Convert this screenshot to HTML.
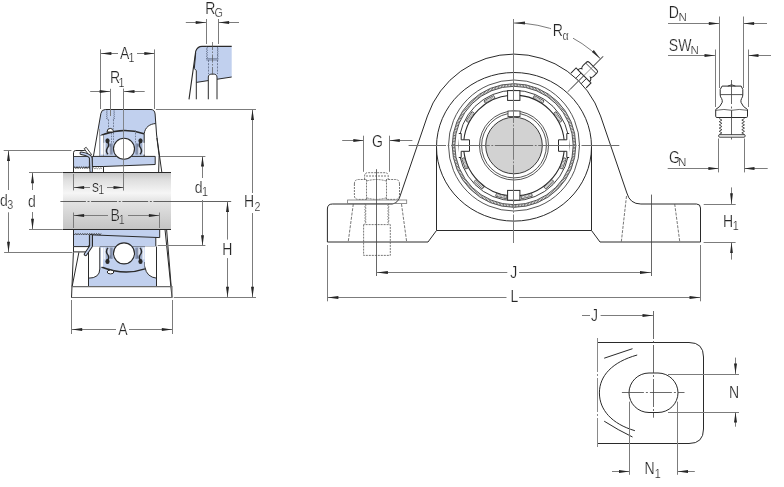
<!DOCTYPE html>
<html><head><meta charset="utf-8"><style>
html,body{margin:0;padding:0;background:#fff;}
svg{display:block;will-change:transform;}
text{font-family:"Liberation Sans",sans-serif;fill:#262626;stroke:#fff;stroke-width:0.22px;}
</style></head><body>
<svg width="784" height="487" viewBox="0 0 784 487">
<rect width="784" height="487" fill="#fff"/>
<defs><linearGradient id="sh" x1="0" y1="0" x2="0" y2="1"><stop offset="0" stop-color="#c6c6c6"/><stop offset="0.12" stop-color="#dedede"/><stop offset="0.36" stop-color="#f6f6f6"/><stop offset="0.5" stop-color="#e4e4e4"/><stop offset="0.75" stop-color="#d4d4d4"/><stop offset="1" stop-color="#c4c4c4"/></linearGradient></defs>
<rect x="63" y="172.7" width="108" height="56.6" fill="url(#sh)"/>
<path d="M105.3,109.5 L151,109.5 Q154.6,109.5 155.1,114 L158.2,146 L159.5,156.4 L93.4,156.4 L100.9,113.4 Q101.5,109.5 105.3,109.5 Z" fill="#c1d0ee" stroke="none"/>
<path d="M98.2,129 L99.7,129 L99.7,156 L93.4,156 Z" fill="#fff" stroke="none"/>
<line x1="99.5" y1="129" x2="99.5" y2="156" stroke="#8a8a8a" stroke-width="0.8" fill="none"/>
<line x1="103.5" y1="135" x2="103.5" y2="156" stroke="#8a8a8a" stroke-width="0.8" fill="none"/>
<path d="M155.6,123.5 C150,124 145,127 144.2,133.7 L144.2,156.4 L159.5,156.4 L158.2,146 Z" fill="#fff" stroke="none"/>
<path d="M155.6,123.5 C150,124 145,127 144.2,133.7 L144.2,156.4" stroke="#2a2a2a" stroke-width="1" fill="none"/>
<path d="M156.6,135 L161.9,172.9" stroke="#2a2a2a" stroke-width="1" fill="none"/>
<path d="M156.9,138 Q160.5,156 158.6,172.9" stroke="#2a2a2a" stroke-width="1" fill="none"/>
<path d="M100.8,136 Q102,134.5 104,134.2 Q124,127 144,133.7" stroke="#2a2a2a" stroke-width="1.5" fill="none"/>
<path d="M106.3,110 l1.1,1.05 l-1.1,1.05 l1.1,1.05 l-1.1,1.05 l1.1,1.05 l-1.1,1.05 l1.1,1.05 l-1.1,1.05" stroke="#56627c" stroke-width="0.7" fill="none"/>
<path d="M114.7,110 l-1.1,1.05 l1.1,1.05 l-1.1,1.05 l1.1,1.05 l-1.1,1.05 l1.1,1.05 l-1.1,1.05 l1.1,1.05" stroke="#56627c" stroke-width="0.7" fill="none"/>
<path d="M106.3,118.4 L108.3,119.5 M114.7,118.4 L112.9,119.5" stroke="#56627c" stroke-width="0.7" fill="none"/>
<line x1="108.5" y1="119.5" x2="108.5" y2="128.8" stroke="#606a80" stroke-width="0.8" stroke-dasharray="1.8 1.1"/>
<line x1="113.5" y1="119.5" x2="113.5" y2="128.8" stroke="#606a80" stroke-width="0.8" stroke-dasharray="1.8 1.1"/>
<path d="M107,132 Q107,128.4 110.3,128.4 Q113.6,128.4 113.6,132 Z" fill="#fff" stroke="#2a2a2a" stroke-width="1"/>
<line x1="111.5" y1="133" x2="111.5" y2="143.6" stroke="#606a80" stroke-width="0.8" stroke-dasharray="1.5 1.2"/>
<line x1="113.5" y1="133" x2="113.5" y2="143.6" stroke="#606a80" stroke-width="0.8" stroke-dasharray="1.5 1.2"/>
<line x1="135.5" y1="130.3" x2="135.5" y2="142.6" stroke="#606a80" stroke-width="0.8" stroke-dasharray="1.5 1.2"/>
<g transform="translate(107.5,148.8) scale(1,1)"><rect x="-6.7" y="-13.3" width="2.2" height="19.1" fill="#fff"/><path d="M-4,-6 L-1.8,-6 L-1.8,5.8 L-4,5.8 Z" fill="#eef1f8"/><path d="M-1.8,-5.5 L4.5,-5.5 L4.5,5.8 L-1.8,5.8 Z" fill="#9eadcb"/><path d="M0.5,-2 L3.5,-2 L3.5,5.8 L0.5,5.8 Z" fill="#d8dff0"/><ellipse cx="0" cy="-8" rx="2.1" ry="2.6" fill="#2a2a2a"/><path d="M0.3,-7 Q2.3,-3.5 -0.3,-0.5 Q-2.3,2.5 0.6,5.5" stroke="#2a2a2a" stroke-width="1.3" fill="none"/><path d="M2.8,-5 L2.8,5.8 M4.5,-5.5 L4.5,5.8" stroke="#4f5a72" stroke-width="0.7" fill="none"/></g>
<g transform="translate(140.5,148.8) scale(-1,1)"><rect x="-6.7" y="-13.3" width="2.2" height="19.1" fill="#fff"/><path d="M-4,-6 L-1.8,-6 L-1.8,5.8 L-4,5.8 Z" fill="#eef1f8"/><path d="M-1.8,-5.5 L4.5,-5.5 L4.5,5.8 L-1.8,5.8 Z" fill="#9eadcb"/><path d="M0.5,-2 L3.5,-2 L3.5,5.8 L0.5,5.8 Z" fill="#d8dff0"/><ellipse cx="0" cy="-8" rx="2.1" ry="2.6" fill="#2a2a2a"/><path d="M0.3,-7 Q2.3,-3.5 -0.3,-0.5 Q-2.3,2.5 0.6,5.5" stroke="#2a2a2a" stroke-width="1.3" fill="none"/><path d="M2.8,-5 L2.8,5.8 M4.5,-5.5 L4.5,5.8" stroke="#4f5a72" stroke-width="0.7" fill="none"/></g>
<path d="M92.2,156.4 L155.2,156.4 L155.2,164.5 L103.5,166.5 L92.2,166.5 Z" fill="#c1d0ee" stroke="#2a2a2a" stroke-width="1"/>
<line x1="103.5" y1="166.5" x2="103.5" y2="172.7" stroke="#2a2a2a" stroke-width="1" fill="none"/>
<path d="M92.5,168.8 l1.2,-1.1 l1.2,1.1 l1.2,-1.1 l1.2,1.1 l1.2,-1.1 l1.2,1.1 l1.2,-1.1 l1.2,1.1" stroke="#555" stroke-width="0.7" fill="none"/>
<circle cx="124" cy="148.8" r="10.5" fill="#fff" stroke="#2a2a2a" stroke-width="1.1"/>
<path d="M73.5,172.7 L73.5,152.7 Q73.5,150.5 75.7,150.5 L84.8,150.5" stroke="#2a2a2a" stroke-width="1" fill="none"/>
<path d="M73.5,156.5 L89.4,156.5 L89.4,168.5 l-1.13,-1.8 l-1.13,1.8 l-1.13,-1.8 l-1.13,1.8 l-1.13,-1.8 l-1.13,1.8 l-1.13,-1.8 l-1.13,1.8 l-1.13,-1.8 l-1.13,1.8 l-1.13,-1.8 l-1.13,1.8 l-1.13,-1.8 l-1.13,1.8 Z" fill="#c1d0ee" stroke="#2a2a2a" stroke-width="0.9"/>
<path d="M84.2,148.6 L86.2,147.3 L91.6,154.6 L89.2,155.8 Z" fill="#fff" stroke="#2a2a2a" stroke-width="0.9"/>
<path d="M81.2,153.2 Q89.5,154.5 90.8,158 L91.2,171.3" stroke="#2a2a2a" stroke-width="3.4" fill="none" stroke-linecap="round"/>
<path d="M81.2,153.2 Q89.5,154.5 90.8,158 L91.2,171.3" stroke="#c1d0ee" stroke-width="1.6" fill="none" stroke-linecap="round"/>
<path d="M73.5,229.3 L159.7,229.3 L159.7,237.6 L155.8,237.6 L155.8,246.6 L73.5,246.6 Z" fill="#c1d0ee" stroke="none"/>
<path d="M73.5,233.4 l1.15,1.6 l1.15,-1.6 l1.15,1.6 l1.15,-1.6 l1.15,1.6 l1.15,-1.6 l1.15,1.6 l1.15,-1.6 l1.15,1.6 l1.15,-1.6 l1.15,1.6 l1.15,-1.6 l1.15,1.6 l1.15,-1.6 l1.15,1.6 l1.15,-1.6 l1.15,1.6 l1.15,-1.6 l1.15,1.6 l1.15,-1.6 l1.15,1.6 l1.15,-1.6 l1.15,1.6 l1.15,-1.6" stroke="#333" stroke-width="0.75" fill="none"/>
<path d="M73.5,246.6 L73.5,251.9 L85.7,251.9" stroke="#2a2a2a" stroke-width="1" fill="none"/>
<path d="M73.5,229.3 L73.5,246.6 L89.4,246.6 L89.4,235" stroke="#2a2a2a" stroke-width="1" fill="none"/>
<path d="M92.5,234.9 L159.7,237.6 L159.7,229.3" stroke="#2a2a2a" stroke-width="1" fill="none"/>
<path d="M92.5,235 L92.5,246.6 L155.8,246.6 L155.8,237.6" stroke="#2a2a2a" stroke-width="1" fill="none"/>
<path d="M88.2,246.6 L156.6,246.6 L156.6,285.9 L88.2,285.9 Z" fill="#c1d0ee" stroke="none"/>
<path d="M88.2,246.6 L99.8,246.6 L99.8,269 Q99.8,278.2 88.2,278.2 Z" fill="#fff" stroke="none"/>
<path d="M99.8,247.4 L99.8,269 Q99.8,278.2 88.2,278.2" stroke="#2a2a2a" stroke-width="1" fill="none"/>
<path d="M145,246.6 L156.6,246.6 L156.6,278.2 Q146.6,277 145,267.4 Z" fill="#fff" stroke="none"/>
<path d="M145,262 L145,267.4 Q146.6,277 156.6,278.2" stroke="#2a2a2a" stroke-width="1" fill="none"/>
<line x1="88.5" y1="245.5" x2="88.5" y2="286.2" stroke="#2a2a2a" stroke-width="1" fill="none"/>
<line x1="156.5" y1="246.6" x2="156.5" y2="286" stroke="#2a2a2a" stroke-width="1" fill="none"/>
<path d="M101.5,267 Q124,276 145,268.9" stroke="#2a2a2a" stroke-width="1.5" fill="none"/>
<ellipse cx="110.5" cy="272" rx="3.3" ry="1.9" fill="#fff" stroke="#2a2a2a" stroke-width="1"/>
<g transform="translate(107.5,253.4) scale(1,-1)"><rect x="-6.7" y="-13.3" width="2.2" height="19.1" fill="#fff"/><path d="M-4,-6 L-1.8,-6 L-1.8,5.8 L-4,5.8 Z" fill="#eef1f8"/><path d="M-1.8,-5.5 L4.5,-5.5 L4.5,5.8 L-1.8,5.8 Z" fill="#9eadcb"/><path d="M0.5,-2 L3.5,-2 L3.5,5.8 L0.5,5.8 Z" fill="#d8dff0"/><ellipse cx="0" cy="-8" rx="2.1" ry="2.6" fill="#2a2a2a"/><path d="M0.3,-7 Q2.3,-3.5 -0.3,-0.5 Q-2.3,2.5 0.6,5.5" stroke="#2a2a2a" stroke-width="1.3" fill="none"/><path d="M2.8,-5 L2.8,5.8 M4.5,-5.5 L4.5,5.8" stroke="#4f5a72" stroke-width="0.7" fill="none"/></g>
<g transform="translate(140.5,253.4) scale(-1,-1)"><rect x="-6.7" y="-13.3" width="2.2" height="19.1" fill="#fff"/><path d="M-4,-6 L-1.8,-6 L-1.8,5.8 L-4,5.8 Z" fill="#eef1f8"/><path d="M-1.8,-5.5 L4.5,-5.5 L4.5,5.8 L-1.8,5.8 Z" fill="#9eadcb"/><path d="M0.5,-2 L3.5,-2 L3.5,5.8 L0.5,5.8 Z" fill="#d8dff0"/><ellipse cx="0" cy="-8" rx="2.1" ry="2.6" fill="#2a2a2a"/><path d="M0.3,-7 Q2.3,-3.5 -0.3,-0.5 Q-2.3,2.5 0.6,5.5" stroke="#2a2a2a" stroke-width="1.3" fill="none"/><path d="M2.8,-5 L2.8,5.8 M4.5,-5.5 L4.5,5.8" stroke="#4f5a72" stroke-width="0.7" fill="none"/></g>
<circle cx="124" cy="253.4" r="10.5" fill="#fff" stroke="#2a2a2a" stroke-width="1.1"/>
<path d="M91,235.5 L91,246.3 L85.6,254.3" stroke="#2a2a2a" stroke-width="3.6" fill="none" stroke-linecap="round"/>
<path d="M91,235.5 L91,246.3 L85.6,254.3" stroke="#c1d0ee" stroke-width="1.6" fill="none" stroke-linecap="round"/>
<line x1="73.4" y1="252.3" x2="71.5" y2="297.8" stroke="#2a2a2a" stroke-width="1" fill="none"/>
<line x1="78.9" y1="252.3" x2="72.2" y2="286.2" stroke="#2a2a2a" stroke-width="1" fill="none"/>
<line x1="165" y1="229.3" x2="172" y2="297.4" stroke="#2a2a2a" stroke-width="1" fill="none"/>
<line x1="166.6" y1="229.3" x2="171.2" y2="286.6" stroke="#2a2a2a" stroke-width="1" fill="none"/>
<path d="M71.5,286.6 L172,286.6 L172,297.5 L71.5,297.5" stroke="#6a6a6a" stroke-width="1.1" fill="none"/>
<line x1="63" y1="172.5" x2="171" y2="172.5" stroke="#2a2a2a" stroke-width="1.1"/>
<line x1="63" y1="229.5" x2="171" y2="229.5" stroke="#2a2a2a" stroke-width="1.1"/>
<path d="M93.4,156.4 L100.9,113.4 Q101.5,109.5 105.3,109.5 L151,109.5 Q154.6,109.5 155.1,114 L156.6,135" stroke="#2a2a2a" stroke-width="1" fill="none"/>
<path d="M60.4,201.5 L85.9,201.5 M87.5,201.5 L89.5,201.5 M91.1,201.5 L117.1,201.5 M118.7,201.5 L120.7,201.5 M122.3,201.5 L148.2,201.5 M149.8,201.5 L151.8,201.5 M153.4,201.5 L231.2,201.5" stroke="#505050" stroke-width="0.9" fill="none"/>
<line x1="123.5" y1="88.7" x2="123.5" y2="190.3" stroke="#707070" stroke-width="0.8" fill="none"/>
<path d="M195.7,51.3 Q197.5,46.4 202,46.4 L231.7,46.4 L231.7,77 L196.3,82.4 L196.3,70 L193.9,68.7 Z" fill="#c1d0ee" stroke="none"/>
<path d="M231.7,46.4 L202,46.4 Q197.5,46.4 195.7,51.3 L189,99.3" stroke="#2a2a2a" stroke-width="1.1" fill="none"/>
<path d="M195.7,53 L194.3,68.5 L196.3,70.7 L196.3,99.3" stroke="#2a2a2a" stroke-width="1" fill="none"/>
<path d="M196.3,82.4 L231.7,77" stroke="#2a2a2a" stroke-width="1" fill="none"/>
<path d="M206.3,46.6 l1.3,1.2 l-1.3,1.2 l1.3,1.2 l-1.3,1.2 l1.3,1.2 l-1.3,1.2 l1.3,1.2 l-1.3,1.2 l1.3,1.2 l-1.3,1.2" stroke="#4a5670" stroke-width="0.7" fill="none"/>
<path d="M218.3,46.6 l-1.3,1.2 l1.3,1.2 l-1.3,1.2 l1.3,1.2 l-1.3,1.2 l1.3,1.2 l-1.3,1.2 l1.3,1.2 l-1.3,1.2 l1.3,1.2" stroke="#4a5670" stroke-width="0.7" fill="none"/>
<path d="M206.3,58.7 L218.3,58.7 M206.3,60 L218.3,60" stroke="#4a5670" stroke-width="0.6" fill="none"/>
<line x1="208.5" y1="60" x2="208.5" y2="74" stroke="#5a6680" stroke-width="0.8" stroke-dasharray="2 1.2"/>
<line x1="217.5" y1="60" x2="217.5" y2="74" stroke="#5a6680" stroke-width="0.8" stroke-dasharray="2 1.2"/>
<path d="M208.3,99.3 L208.3,77 Q208.3,74 212.6,74 Q217,74 217,77 L217,99.3" fill="#fff" stroke="#2a2a2a" stroke-width="1"/>
<line x1="212.5" y1="42" x2="212.5" y2="76" stroke="#555" stroke-width="0.7" stroke-dasharray="8 1.5 1.5 1.5"/>
<line x1="206.5" y1="19" x2="206.5" y2="44" stroke="#7c7c7c" stroke-width="1" fill="none"/>
<line x1="218.5" y1="19" x2="218.5" y2="44" stroke="#7c7c7c" stroke-width="1" fill="none"/>
<line x1="185.8" y1="22.5" x2="206.2" y2="22.5" stroke="#7c7c7c" stroke-width="1" fill="none"/>
<polygon points="206.2,22.5 195.7,21.0 195.7,24.0" fill="#262626"/>
<line x1="218.6" y1="22.5" x2="239" y2="22.5" stroke="#7c7c7c" stroke-width="1" fill="none"/>
<polygon points="218.6,22.5 229.1,21.0 229.1,24.0" fill="#262626"/>
<text transform="translate(205.2,13.7) scale(0.86,1)" font-size="16.3">R</text>
<text transform="translate(214.6,17.0) scale(0.86,1)" font-size="12.5">G</text>
<line x1="100.5" y1="49.4" x2="100.5" y2="109" stroke="#7c7c7c" stroke-width="1" fill="none"/>
<line x1="154.5" y1="49.4" x2="154.5" y2="109" stroke="#7c7c7c" stroke-width="1" fill="none"/>
<line x1="100.9" y1="53.5" x2="118" y2="53.5" stroke="#7c7c7c" stroke-width="1" fill="none"/>
<line x1="137" y1="53.5" x2="154.8" y2="53.5" stroke="#7c7c7c" stroke-width="1" fill="none"/>
<polygon points="100.9,53.5 111.4,52.0 111.4,55.0" fill="#262626"/>
<polygon points="154.8,53.5 144.3,52.0 144.3,55.0" fill="#262626"/>
<text transform="translate(120.0,58.7) scale(0.86,1)" font-size="16.3">A</text>
<text transform="translate(128.4,61.9) scale(0.86,1)" font-size="12.5">1</text>
<line x1="110.5" y1="88.8" x2="110.5" y2="116" stroke="#7c7c7c" stroke-width="1" fill="none"/>
<line x1="123.5" y1="88.8" x2="123.5" y2="110" stroke="#7c7c7c" stroke-width="1" fill="none"/>
<line x1="90.2" y1="91.5" x2="110.1" y2="91.5" stroke="#7c7c7c" stroke-width="1" fill="none"/>
<polygon points="110.1,91.5 99.6,90.0 99.6,93.0" fill="#262626"/>
<line x1="124" y1="91.5" x2="144.7" y2="91.5" stroke="#7c7c7c" stroke-width="1" fill="none"/>
<polygon points="124.0,91.5 134.5,90.0 134.5,93.0" fill="#262626"/>
<text transform="translate(110.0,83.4) scale(0.86,1)" font-size="16.3">R</text>
<text transform="translate(118.5,86.8) scale(0.86,1)" font-size="12.5">1</text>
<line x1="155.9" y1="109.5" x2="256" y2="109.5" stroke="#7c7c7c" stroke-width="1" fill="none"/>
<line x1="173.8" y1="297.5" x2="256" y2="297.5" stroke="#7c7c7c" stroke-width="1" fill="none"/>
<line x1="252.5" y1="109.5" x2="252.5" y2="193" stroke="#7c7c7c" stroke-width="1" fill="none"/>
<line x1="252.5" y1="213" x2="252.5" y2="297.3" stroke="#7c7c7c" stroke-width="1" fill="none"/>
<polygon points="252.5,109.5 251.0,120.0 254.0,120.0" fill="#262626"/>
<polygon points="252.5,297.3 251.0,286.8 254.0,286.8" fill="#262626"/>
<text transform="translate(244.0,207.2) scale(0.86,1)" font-size="16.3">H</text>
<text transform="translate(254.4,210.5) scale(0.86,1)" font-size="12.5">2</text>
<line x1="227.5" y1="201.5" x2="227.5" y2="239.6" stroke="#7c7c7c" stroke-width="1" fill="none"/>
<line x1="227.5" y1="258.1" x2="227.5" y2="297.3" stroke="#7c7c7c" stroke-width="1" fill="none"/>
<polygon points="227.5,201.5 226.0,212.0 229.0,212.0" fill="#262626"/>
<polygon points="227.5,297.3 226.0,286.8 229.0,286.8" fill="#262626"/>
<text transform="translate(222.3,254.7) scale(0.86,1)" font-size="16.3">H</text>
<line x1="160" y1="156.5" x2="205.4" y2="156.5" stroke="#7c7c7c" stroke-width="1" fill="none"/>
<line x1="157.7" y1="245.5" x2="205.4" y2="245.5" stroke="#7c7c7c" stroke-width="1" fill="none"/>
<line x1="202.5" y1="156" x2="202.5" y2="178" stroke="#7c7c7c" stroke-width="1" fill="none"/>
<line x1="202.5" y1="200" x2="202.5" y2="245.8" stroke="#7c7c7c" stroke-width="1" fill="none"/>
<polygon points="202.5,156.0 201.0,166.5 204.0,166.5" fill="#262626"/>
<polygon points="202.5,245.8 201.0,235.3 204.0,235.3" fill="#262626"/>
<text transform="translate(194.8,192.9) scale(0.86,1)" font-size="16.3">d</text>
<text transform="translate(201.9,195.8) scale(0.86,1)" font-size="12.5">1</text>
<line x1="3.7" y1="150.5" x2="71.4" y2="150.5" stroke="#7c7c7c" stroke-width="1" fill="none"/>
<line x1="4.1" y1="252.5" x2="72.4" y2="252.5" stroke="#7c7c7c" stroke-width="1" fill="none"/>
<line x1="8.5" y1="150.6" x2="8.5" y2="190" stroke="#7c7c7c" stroke-width="1" fill="none"/>
<line x1="8.5" y1="212.3" x2="8.5" y2="252.2" stroke="#7c7c7c" stroke-width="1" fill="none"/>
<polygon points="8.5,150.6 7.0,161.1 10.0,161.1" fill="#262626"/>
<polygon points="8.5,252.2 7.0,241.7 10.0,241.7" fill="#262626"/>
<text transform="translate(-0.1,206.2) scale(0.86,1)" font-size="16.3">d</text>
<text transform="translate(7.3,209.1) scale(0.86,1)" font-size="12.5">3</text>
<line x1="29" y1="172.5" x2="62.8" y2="172.5" stroke="#7c7c7c" stroke-width="1" fill="none"/>
<line x1="29" y1="229.5" x2="62.8" y2="229.5" stroke="#7c7c7c" stroke-width="1" fill="none"/>
<line x1="32.5" y1="172.8" x2="32.5" y2="190" stroke="#7c7c7c" stroke-width="1" fill="none"/>
<line x1="32.5" y1="212" x2="32.5" y2="229.2" stroke="#7c7c7c" stroke-width="1" fill="none"/>
<polygon points="32.5,172.8 31.0,183.3 34.0,183.3" fill="#262626"/>
<polygon points="32.5,229.2 31.0,218.7 34.0,218.7" fill="#262626"/>
<text transform="translate(28.0,206.9) scale(0.86,1)" font-size="16.3">d</text>
<line x1="73.5" y1="174" x2="73.5" y2="190.4" stroke="#7c7c7c" stroke-width="1" fill="none"/>
<line x1="123.5" y1="174" x2="123.5" y2="190.4" stroke="#7c7c7c" stroke-width="1" fill="none"/>
<line x1="73.6" y1="187.5" x2="90" y2="187.5" stroke="#7c7c7c" stroke-width="1" fill="none"/>
<line x1="107" y1="187.5" x2="124" y2="187.5" stroke="#7c7c7c" stroke-width="1" fill="none"/>
<polygon points="73.6,187.5 84.1,186.0 84.1,189.0" fill="#262626"/>
<polygon points="124.0,187.5 113.5,186.0 113.5,189.0" fill="#262626"/>
<text transform="translate(91.9,191.9) scale(0.86,1)" font-size="16.3">s</text>
<text transform="translate(98.2,194.4) scale(0.86,1)" font-size="12.5">1</text>
<line x1="73.5" y1="212.5" x2="73.5" y2="228" stroke="#7c7c7c" stroke-width="1" fill="none"/>
<line x1="159.5" y1="212.5" x2="159.5" y2="228" stroke="#7c7c7c" stroke-width="1" fill="none"/>
<line x1="73.6" y1="215.5" x2="108" y2="215.5" stroke="#7c7c7c" stroke-width="1" fill="none"/>
<line x1="128" y1="215.5" x2="159.4" y2="215.5" stroke="#7c7c7c" stroke-width="1" fill="none"/>
<polygon points="73.6,215.5 84.1,214.0 84.1,217.0" fill="#262626"/>
<polygon points="159.4,215.5 148.9,214.0 148.9,217.0" fill="#262626"/>
<text transform="translate(110.4,220.6) scale(0.86,1)" font-size="16.3">B</text>
<text transform="translate(118.7,223.7) scale(0.86,1)" font-size="12.5">1</text>
<line x1="71.5" y1="300" x2="71.5" y2="334" stroke="#7c7c7c" stroke-width="1" fill="none"/>
<line x1="172.5" y1="300" x2="172.5" y2="334" stroke="#7c7c7c" stroke-width="1" fill="none"/>
<line x1="71.75" y1="329.5" x2="116" y2="329.5" stroke="#7c7c7c" stroke-width="1" fill="none"/>
<line x1="129" y1="329.5" x2="172.3" y2="329.5" stroke="#7c7c7c" stroke-width="1" fill="none"/>
<polygon points="71.8,329.5 82.2,328.0 82.2,331.0" fill="#262626"/>
<polygon points="172.3,329.5 161.8,328.0 161.8,331.0" fill="#262626"/>
<text transform="translate(118.3,335.0) scale(0.86,1)" font-size="16.3">A</text>
<path d="M427.44,115.95 A91.5,91.5 0 0 1 600.56,115.95 L626.87,193 Q629.87,204 640.87,204 L696.5,204 Q700.5,204 700.5,208 L700.5,242 L600,242 L591.5,230.5 L436.5,230.5 L428,242 L327.4,242 L327.4,209 Q327.4,204 332.4,204 L392.3,204 Q398.5,203 400.44,195 Z" stroke="#2a2a2a" stroke-width="1" fill="none"/>
<line x1="436.5" y1="146.5" x2="436.5" y2="230.5" stroke="#2a2a2a" stroke-width="1" fill="none"/>
<line x1="591.5" y1="146.5" x2="591.5" y2="230.5" stroke="#2a2a2a" stroke-width="1" fill="none"/>
<ellipse cx="514" cy="146.8" rx="77.5" ry="74.3" stroke="#2a2a2a" stroke-width="1" fill="none"/>
<circle cx="514" cy="145.5" r="65.5" stroke="#2a2a2a" stroke-width="0.8" fill="none"/>
<circle cx="514" cy="145.5" r="61.8" stroke="#2a2a2a" stroke-width="0.8" fill="none"/>
<circle cx="514" cy="145.5" r="60.5" stroke="#5a5a5a" stroke-width="2.4" fill="none" stroke-dasharray="0.75 0.75"/>
<circle cx="514" cy="145.5" r="59.2" stroke="#2a2a2a" stroke-width="0.8" fill="none"/>
<circle cx="514" cy="145.5" r="55.2" stroke="#2a2a2a" stroke-width="0.9" fill="none"/>
<circle cx="514" cy="145.5" r="50.4" stroke="#2a2a2a" stroke-width="1.1" fill="none"/>
<rect x="507.6" y="90.6" width="12.3" height="9.8" fill="#fff" stroke="#2a2a2a" stroke-width="1"/>
<rect x="507.6" y="190.4" width="12.3" height="9.8" fill="#fff" stroke="#2a2a2a" stroke-width="1"/>
<g transform="translate(514,145.5) scale(1,1)"><path d="M-55.2,-12 L-52.8,-12 L-52.8,-5.7 L-44.5,-5.7 L-44.5,5.8 L-52.8,5.8 L-52.8,12 L-55.2,12" fill="#fff" stroke="#2a2a2a" stroke-width="1"/></g>
<g transform="translate(514,145.5) scale(-1,1)"><path d="M-55.2,-12 L-52.8,-12 L-52.8,-5.7 L-44.5,-5.7 L-44.5,5.8 L-52.8,5.8 L-52.8,12 L-55.2,12" fill="#fff" stroke="#2a2a2a" stroke-width="1"/></g>
<g transform="rotate(-57 514 145.5)"><rect x="508.5" y="91.9" width="11" height="2.8" fill="#fff" stroke="#2a2a2a" stroke-width="0.7"/><line x1="509" y1="93.3" x2="519" y2="93.3" stroke="#777" stroke-width="1.6" stroke-dasharray="0.7 0.7"/></g>
<g transform="rotate(-28 514 145.5)"><rect x="508.5" y="91.9" width="11" height="2.8" fill="#fff" stroke="#2a2a2a" stroke-width="0.7"/><line x1="509" y1="93.3" x2="519" y2="93.3" stroke="#777" stroke-width="1.6" stroke-dasharray="0.7 0.7"/></g>
<g transform="rotate(28 514 145.5)"><rect x="508.5" y="91.9" width="11" height="2.8" fill="#fff" stroke="#2a2a2a" stroke-width="0.7"/><line x1="509" y1="93.3" x2="519" y2="93.3" stroke="#777" stroke-width="1.6" stroke-dasharray="0.7 0.7"/></g>
<g transform="rotate(57 514 145.5)"><rect x="508.5" y="91.9" width="11" height="2.8" fill="#fff" stroke="#2a2a2a" stroke-width="0.7"/><line x1="509" y1="93.3" x2="519" y2="93.3" stroke="#777" stroke-width="1.6" stroke-dasharray="0.7 0.7"/></g>
<g transform="rotate(166 514 145.5)"><rect x="508.5" y="91.9" width="11" height="2.8" fill="#fff" stroke="#2a2a2a" stroke-width="0.7"/><line x1="509" y1="93.3" x2="519" y2="93.3" stroke="#777" stroke-width="1.6" stroke-dasharray="0.7 0.7"/></g>
<g transform="rotate(194 514 145.5)"><rect x="508.5" y="91.9" width="11" height="2.8" fill="#fff" stroke="#2a2a2a" stroke-width="0.7"/><line x1="509" y1="93.3" x2="519" y2="93.3" stroke="#777" stroke-width="1.6" stroke-dasharray="0.7 0.7"/></g>
<g transform="rotate(138 514 145.5)"><rect x="508.5" y="91.9" width="11" height="2.8" fill="#fff" stroke="#2a2a2a" stroke-width="0.7"/><line x1="509" y1="93.3" x2="519" y2="93.3" stroke="#777" stroke-width="1.6" stroke-dasharray="0.7 0.7"/></g>
<g transform="rotate(222 514 145.5)"><rect x="508.5" y="91.9" width="11" height="2.8" fill="#fff" stroke="#2a2a2a" stroke-width="0.7"/><line x1="509" y1="93.3" x2="519" y2="93.3" stroke="#777" stroke-width="1.6" stroke-dasharray="0.7 0.7"/></g>
<g transform="rotate(110 514 145.5)"><rect x="508.5" y="91.9" width="11" height="2.8" fill="#fff" stroke="#2a2a2a" stroke-width="0.7"/><line x1="509" y1="93.3" x2="519" y2="93.3" stroke="#777" stroke-width="1.6" stroke-dasharray="0.7 0.7"/></g>
<g transform="rotate(250 514 145.5)"><rect x="508.5" y="91.9" width="11" height="2.8" fill="#fff" stroke="#2a2a2a" stroke-width="0.7"/><line x1="509" y1="93.3" x2="519" y2="93.3" stroke="#777" stroke-width="1.6" stroke-dasharray="0.7 0.7"/></g>
<circle cx="514" cy="145.5" r="34.5" stroke="#2a2a2a" stroke-width="0.8" fill="none"/>
<circle cx="514" cy="145.5" r="32.4" stroke="#2a2a2a" stroke-width="0.8" fill="none"/>
<circle cx="514" cy="145.5" r="28.3" fill="#d2d2d2" stroke="#3a3a3a" stroke-width="1"/>
<rect x="508" y="111" width="12" height="5.6" fill="#fff" stroke="#2a2a2a" stroke-width="0.8"/>
<path d="M408.6,145.5 L446.0,145.5 M447.6,145.5 L449.4,145.5 M451.0,145.5 L489.8,145.5 M491.4,145.5 L493.2,145.5 M494.8,145.5 L533.2,145.5 M534.8,145.5 L536.6,145.5 M538.2,145.5 L576.5,145.5 M578.1,145.5 L579.9,145.5 M581.5,145.5 L619.3,145.5" stroke="#6e6e6e" stroke-width="1" fill="none"/>
<path d="M513.5,19.0 L513.5,123.0 M513.5,124.6 L513.5,126.4 M513.5,128.0 L513.5,159.8 M513.5,161.4 L513.5,163.2 M513.5,164.8 L513.5,209.5 M513.5,211.1 L513.5,212.9 M513.5,214.5 L513.5,243.0" stroke="#7a7a7a" stroke-width="1" fill="none"/>
<path d="M514,23.0 A122.5,122.5 0 0 1 600.62,58.88" stroke="#7c7c7c" stroke-width="1" fill="none"/>
<polygon points="514.0,23.0 525.0,21.6 525.0,24.4" fill="#303030"/>
<polygon points="600.6,58.9 591.9,52.1 593.8,50.1" fill="#303030"/>
<rect x="551" y="23" width="22" height="17" fill="#fff"/>
<text transform="translate(552.8,36.0) scale(0.86,1)" font-size="16.3">R</text>
<text transform="translate(562.6,39.6) scale(0.86,1)" font-size="12.5">α</text>
<g transform="translate(514,145.5) rotate(-45)"><line x1="76" y1="0" x2="126" y2="0" stroke="#7c7c7c" stroke-width="1" fill="none"/><path d="M91.5,-10.9 L98.7,-10.9 L98.7,10.2 L91.8,10.2" fill="none" stroke="#2a2a2a" stroke-width="1"/><line x1="91" y1="-3.8" x2="99" y2="-3.8" stroke="#2a2a2a" stroke-width="0.9"/><line x1="91" y1="3.8" x2="99" y2="3.8" stroke="#2a2a2a" stroke-width="0.9"/><path d="M98.7,-8.3 Q101.5,-8.3 102.3,-6.3 Q103,-7.7 105.5,-7.7 L110,-7.7 Q112,-7.7 112,-5.5 L112,5.3 Q112,7.3 110,7.3 L105.5,7.3 Q103,7.3 102.3,5.8 Q101.5,8.3 98.7,8.3 Z" fill="#fff" stroke="#2a2a2a" stroke-width="1"/><line x1="109" y1="-7.2" x2="109" y2="6.8" stroke="#2a2a2a" stroke-width="0.8"/><line x1="80" y1="0" x2="126" y2="0" stroke="#555" stroke-width="0.6"/></g>
<path d="M354.4,184 Q354.4,179.5 358.5,179.5 L366.7,179.5 M354.4,184 L354.4,195.5 Q354.4,199.4 358.5,199.4 L366.7,199.4" stroke="#555" stroke-width="0.8" fill="none" stroke-dasharray="2 1"/>
<path d="M399.5,184 Q399.5,179.5 395.4,179.5 L386.2,179.5 M399.5,184 L399.5,195.5 Q399.5,199.4 395.4,199.4 L386.2,199.4" stroke="#555" stroke-width="0.8" fill="none" stroke-dasharray="2 1"/>
<path d="M366.7,181 Q376.5,178 386.2,181 M366.7,197.8 Q376.5,201 386.2,197.8" stroke="#555" stroke-width="0.8" fill="none" stroke-dasharray="2 1"/>
<line x1="366.5" y1="179.5" x2="366.5" y2="199.4" stroke="#555" stroke-width="0.8" fill="none" stroke-dasharray="2 1"/>
<line x1="386.5" y1="179.5" x2="386.5" y2="199.4" stroke="#555" stroke-width="0.8" fill="none" stroke-dasharray="2 1"/>
<path d="M364.6,179.5 L364.6,176 Q364.6,172.7 368,172.7 L385,172.7 Q388.2,172.7 388.2,176 L388.2,179.5" stroke="#555" stroke-width="0.8" fill="none" stroke-dasharray="2 1"/>
<path d="M366,176 L387,176" stroke="#555" stroke-width="0.8" fill="none" stroke-dasharray="2 1"/>
<rect x="347.6" y="200" width="59.1" height="3.5" fill="none" stroke="#777" stroke-width="0.8"/>
<line x1="353.3" y1="204" x2="348.2" y2="242" stroke="#555" stroke-width="0.8" fill="none" stroke-dasharray="3 1.3"/>
<line x1="401.5" y1="204" x2="406.7" y2="242" stroke="#555" stroke-width="0.8" fill="none" stroke-dasharray="3 1.3"/>
<path d="M364.6,204 l1.6,1.4 l-1.6,1.4 l1.6,1.4 l-1.6,1.4 l1.6,1.4 l-1.6,1.4 l1.6,1.4 l-1.6,1.4 l1.6,1.4 l-1.6,1.4 l1.6,1.4 l-1.6,1.4 l1.6,1.4 l-1.6,1.4" stroke="#555" stroke-width="0.7" fill="none"/>
<path d="M389.2,204 l-1.6,1.4 l1.6,1.4 l-1.6,1.4 l1.6,1.4 l-1.6,1.4 l1.6,1.4 l-1.6,1.4 l1.6,1.4 l-1.6,1.4 l1.6,1.4 l-1.6,1.4 l1.6,1.4 l-1.6,1.4 l1.6,1.4" stroke="#555" stroke-width="0.7" fill="none"/>
<path d="M363.6,224.6 L363.6,255.4 L390.3,255.4 L390.3,224.6 Z" stroke="#555" stroke-width="0.8" fill="none" stroke-dasharray="2 1"/>
<line x1="376.5" y1="169.2" x2="376.5" y2="276" stroke="#404040" stroke-width="0.8"/>
<line x1="626.5" y1="196" x2="621.3" y2="242" stroke="#555" stroke-width="0.8" fill="none" stroke-dasharray="3 1.3"/>
<line x1="674.7" y1="204" x2="679.8" y2="242" stroke="#555" stroke-width="0.8" fill="none" stroke-dasharray="3 1.3"/>
<line x1="651.5" y1="194.6" x2="651.5" y2="276" stroke="#404040" stroke-width="0.8"/>
<line x1="363.5" y1="135.7" x2="363.5" y2="171.8" stroke="#7c7c7c" stroke-width="1" fill="none"/>
<line x1="389.5" y1="135.7" x2="389.5" y2="171.8" stroke="#7c7c7c" stroke-width="1" fill="none"/>
<line x1="342.2" y1="140.5" x2="363.8" y2="140.5" stroke="#7c7c7c" stroke-width="1" fill="none"/>
<polygon points="363.8,140.5 353.3,139.0 353.3,142.0" fill="#262626"/>
<line x1="389.3" y1="140.5" x2="412.4" y2="140.5" stroke="#7c7c7c" stroke-width="1" fill="none"/>
<polygon points="389.3,140.5 399.8,139.0 399.8,142.0" fill="#262626"/>
<text transform="translate(371.9,146.8) scale(0.86,1)" font-size="16.3">G</text>
<line x1="327.5" y1="245" x2="327.5" y2="301.3" stroke="#7c7c7c" stroke-width="1" fill="none"/>
<line x1="700.5" y1="245" x2="700.5" y2="301.3" stroke="#7c7c7c" stroke-width="1" fill="none"/>
<line x1="376.9" y1="272.5" x2="507.3" y2="272.5" stroke="#7c7c7c" stroke-width="1" fill="none"/>
<line x1="519.1" y1="272.5" x2="651" y2="272.5" stroke="#7c7c7c" stroke-width="1" fill="none"/>
<polygon points="376.9,272.5 387.9,271.1 387.9,273.9" fill="#262626"/>
<polygon points="651.0,272.5 640.0,271.1 640.0,273.9" fill="#262626"/>
<text transform="translate(510.2,277.8) scale(0.86,1)" font-size="16.3">J</text>
<line x1="327.4" y1="297.5" x2="506.5" y2="297.5" stroke="#7c7c7c" stroke-width="1" fill="none"/>
<line x1="519.1" y1="297.5" x2="700.5" y2="297.5" stroke="#7c7c7c" stroke-width="1" fill="none"/>
<polygon points="327.4,297.5 338.4,296.1 338.4,298.9" fill="#262626"/>
<polygon points="700.5,297.5 689.5,296.1 689.5,298.9" fill="#262626"/>
<text transform="translate(510.4,302.4) scale(0.86,1)" font-size="16.3">L</text>
<line x1="703.7" y1="204.5" x2="735.7" y2="204.5" stroke="#7c7c7c" stroke-width="1" fill="none"/>
<line x1="703.6" y1="242.5" x2="735.6" y2="242.5" stroke="#7c7c7c" stroke-width="1" fill="none"/>
<line x1="731.5" y1="187.4" x2="731.5" y2="204.3" stroke="#7c7c7c" stroke-width="1" fill="none"/>
<line x1="731.5" y1="242" x2="731.5" y2="259.6" stroke="#7c7c7c" stroke-width="1" fill="none"/>
<polygon points="731.5,204.3 730.1,193.3 732.9,193.3" fill="#262626"/>
<polygon points="731.5,242.0 730.1,253.0 732.9,253.0" fill="#262626"/>
<text transform="translate(723.0,226.6) scale(0.86,1)" font-size="16.3">H</text>
<text transform="translate(732.7,229.9) scale(0.86,1)" font-size="12.5">1</text>
<line x1="719.5" y1="16.5" x2="719.5" y2="88" stroke="#7c7c7c" stroke-width="1" fill="none"/>
<line x1="743.5" y1="16.5" x2="743.5" y2="88" stroke="#7c7c7c" stroke-width="1" fill="none"/>
<line x1="668" y1="23.5" x2="719.3" y2="23.5" stroke="#7c7c7c" stroke-width="1" fill="none"/>
<polygon points="719.3,23.5 708.8,22.0 708.8,25.0" fill="#262626"/>
<line x1="743.6" y1="23.5" x2="767" y2="23.5" stroke="#7c7c7c" stroke-width="1" fill="none"/>
<polygon points="743.6,23.5 754.1,22.0 754.1,25.0" fill="#262626"/>
<text transform="translate(668.8,17.9) scale(0.86,1)" font-size="16.3">D</text>
<text transform="translate(678.5,20.9) scale(1.0,1)" font-size="11.6">N</text>
<line x1="715.5" y1="49.5" x2="715.5" y2="107" stroke="#7c7c7c" stroke-width="1" fill="none"/>
<line x1="748.5" y1="49.5" x2="748.5" y2="107" stroke="#7c7c7c" stroke-width="1" fill="none"/>
<line x1="668" y1="55.5" x2="715" y2="55.5" stroke="#7c7c7c" stroke-width="1" fill="none"/>
<polygon points="715.0,55.5 704.5,54.0 704.5,57.0" fill="#262626"/>
<line x1="748" y1="55.5" x2="771" y2="55.5" stroke="#7c7c7c" stroke-width="1" fill="none"/>
<polygon points="748.0,55.5 758.5,54.0 758.5,57.0" fill="#262626"/>
<text transform="translate(668.8,50.5) scale(0.86,1)" font-size="16.3">SW</text>
<text transform="translate(690.6,53.6) scale(1.0,1)" font-size="11.6">N</text>
<line x1="718.5" y1="138.5" x2="718.5" y2="172.4" stroke="#7c7c7c" stroke-width="1" fill="none"/>
<line x1="744.5" y1="138.5" x2="744.5" y2="172.4" stroke="#7c7c7c" stroke-width="1" fill="none"/>
<line x1="667.7" y1="168.5" x2="718.9" y2="168.5" stroke="#7c7c7c" stroke-width="1" fill="none"/>
<polygon points="718.9,168.5 708.4,167.0 708.4,170.0" fill="#262626"/>
<line x1="744" y1="168.5" x2="767.7" y2="168.5" stroke="#7c7c7c" stroke-width="1" fill="none"/>
<polygon points="744.0,168.5 754.5,167.0 754.5,170.0" fill="#262626"/>
<text transform="translate(668.9,162.6) scale(0.86,1)" font-size="16.3">G</text>
<text transform="translate(678.1,165.6) scale(1.0,1)" font-size="11.6">N</text>
<path d="M722.1,86.1 L741.2,86.1 L742.8,89.5 L742.8,94.8 Q742.8,97 741.6,98.5 Q740.6,100.3 741,102.3 Q742.5,106.8 747.5,109.5 L747.5,116.3 Q747.5,117.5 746.3,117.5 L716.9,117.5 Q715.7,117.5 715.7,116.3 L715.7,109.5 Q720.7,106.8 722.2,102.3 Q722.6,100.3 721.6,98.5 Q720.2,97 720.2,94.8 L720.2,89.5 Z" fill="#fff" stroke="#2a2a2a" stroke-width="1"/>
<path d="M727.8,86.1 Q731.5,83.4 735.4,86.1" stroke="#2a2a2a" stroke-width="0.9" fill="none"/>
<path d="M720.2,94.6 L742.8,94.6" stroke="#2a2a2a" stroke-width="0.8" fill="none"/>
<path d="M716,110.3 Q724,108.6 731.6,110.3 Q739.2,108.6 747.2,110.3" stroke="#2a2a2a" stroke-width="0.7" fill="none"/>
<path d="M731.6,110.3 L731.6,117.5" stroke="#2a2a2a" stroke-width="0.8" fill="none"/>
<path d="M719.2,118.5 L721.9,120.1 L719.2,121.7 L721.9,123.3 L719.2,124.9 L721.9,126.5 L719.2,128.1 L721.9,129.7 L719.2,131.29999999999998 L721.9,132.9 L719.2,134.5" stroke="#2a2a2a" stroke-width="0.8" fill="none"/>
<path d="M744.5,118.5 L741.8,120.1 L744.5,121.7 L741.8,123.3 L744.5,124.9 L741.8,126.5 L744.5,128.1 L741.8,129.7 L744.5,131.29999999999998 L741.8,132.9 L744.5,134.5" stroke="#2a2a2a" stroke-width="0.8" fill="none"/>
<path d="M719.6,134.7 L744.2,134.7 Q745.2,134.7 745.2,135.8 Q745.2,137.2 744,137.2 L719.8,137.2 Q718.6,137.2 718.6,135.8 Q718.6,134.7 719.6,134.7 Z" fill="none" stroke="#2a2a2a" stroke-width="0.9"/>
<line x1="731.5" y1="80" x2="731.5" y2="141.6" stroke="#404040" stroke-width="0.8" fill="none" stroke-dasharray="24 2.5 2 2.5"/>
<path d="M597.1,342.5 L689,342.5 Q703.5,342.5 703.5,357 L703.5,429 Q703.5,443.5 689,443.5 L597.1,443.5" stroke="#2a2a2a" stroke-width="1" fill="none"/>
<line x1="597.5" y1="338" x2="597.5" y2="447" stroke="#8a8a8a" stroke-width="1" fill="none" stroke-dasharray="34 2 2 2"/>
<path d="M649,373 L658,373 C669,373 678,382 678,392.8 C678,403.6 669,412.5 658,412.5 L649,412.5 C638,412.5 629,403.6 629,392.8 C629,382 638,373 649,373 Z" fill="none" stroke="#2a2a2a" stroke-width="1"/>
<path d="M637.2,355 C612,362 599.4,376 599.4,392.9 C599.4,410 612,424 634.9,430.7" stroke="#2a2a2a" stroke-width="1" fill="none"/>
<path d="M604.2,358.2 L632.5,348.7" stroke="#2a2a2a" stroke-width="1" fill="none"/>
<path d="M604.2,421.2 Q618,430 632.5,437" stroke="#2a2a2a" stroke-width="1" fill="none"/>
<line x1="653.5" y1="311" x2="653.5" y2="417.7" stroke="#444" stroke-width="0.8" fill="none" stroke-dasharray="28 2 2 2"/>
<line x1="621.9" y1="392.5" x2="684.5" y2="392.5" stroke="#444" stroke-width="0.8" fill="none" stroke-dasharray="22 2 2 2"/>
<line x1="582" y1="315.5" x2="590" y2="315.5" stroke="#7c7c7c" stroke-width="1" fill="none"/>
<line x1="600.6" y1="315.5" x2="653" y2="315.5" stroke="#7c7c7c" stroke-width="1" fill="none"/>
<polygon points="653.0,315.5 642.5,314.0 642.5,317.0" fill="#262626"/>
<text transform="translate(591.0,320.5) scale(0.86,1)" font-size="16.3">J</text>
<line x1="668" y1="374.5" x2="739" y2="374.5" stroke="#7c7c7c" stroke-width="1" fill="none"/>
<line x1="668" y1="412.5" x2="739" y2="412.5" stroke="#7c7c7c" stroke-width="1" fill="none"/>
<line x1="735.5" y1="357.6" x2="735.5" y2="374" stroke="#7c7c7c" stroke-width="1" fill="none"/>
<polygon points="735.5,374.0 734.0,363.5 737.0,363.5" fill="#262626"/>
<line x1="735.5" y1="412" x2="735.5" y2="426.7" stroke="#7c7c7c" stroke-width="1" fill="none"/>
<polygon points="735.5,412.0 734.0,422.5 737.0,422.5" fill="#262626"/>
<text transform="translate(729.1,398.3) scale(0.86,1)" font-size="16.3">N</text>
<line x1="629.5" y1="401.7" x2="629.5" y2="474.8" stroke="#7c7c7c" stroke-width="1" fill="none"/>
<line x1="677.5" y1="401.7" x2="677.5" y2="474.8" stroke="#7c7c7c" stroke-width="1" fill="none"/>
<line x1="612" y1="471.5" x2="629.5" y2="471.5" stroke="#7c7c7c" stroke-width="1" fill="none"/>
<polygon points="629.5,471.5 619.0,470.0 619.0,473.0" fill="#262626"/>
<line x1="677.5" y1="471.5" x2="694.8" y2="471.5" stroke="#7c7c7c" stroke-width="1" fill="none"/>
<polygon points="677.5,471.5 688.0,470.0 688.0,473.0" fill="#262626"/>
<text transform="translate(644.6,474.0) scale(0.86,1)" font-size="16.3">N</text>
<text transform="translate(654.8,477.8) scale(0.86,1)" font-size="12.5">1</text>
</svg></body></html>
